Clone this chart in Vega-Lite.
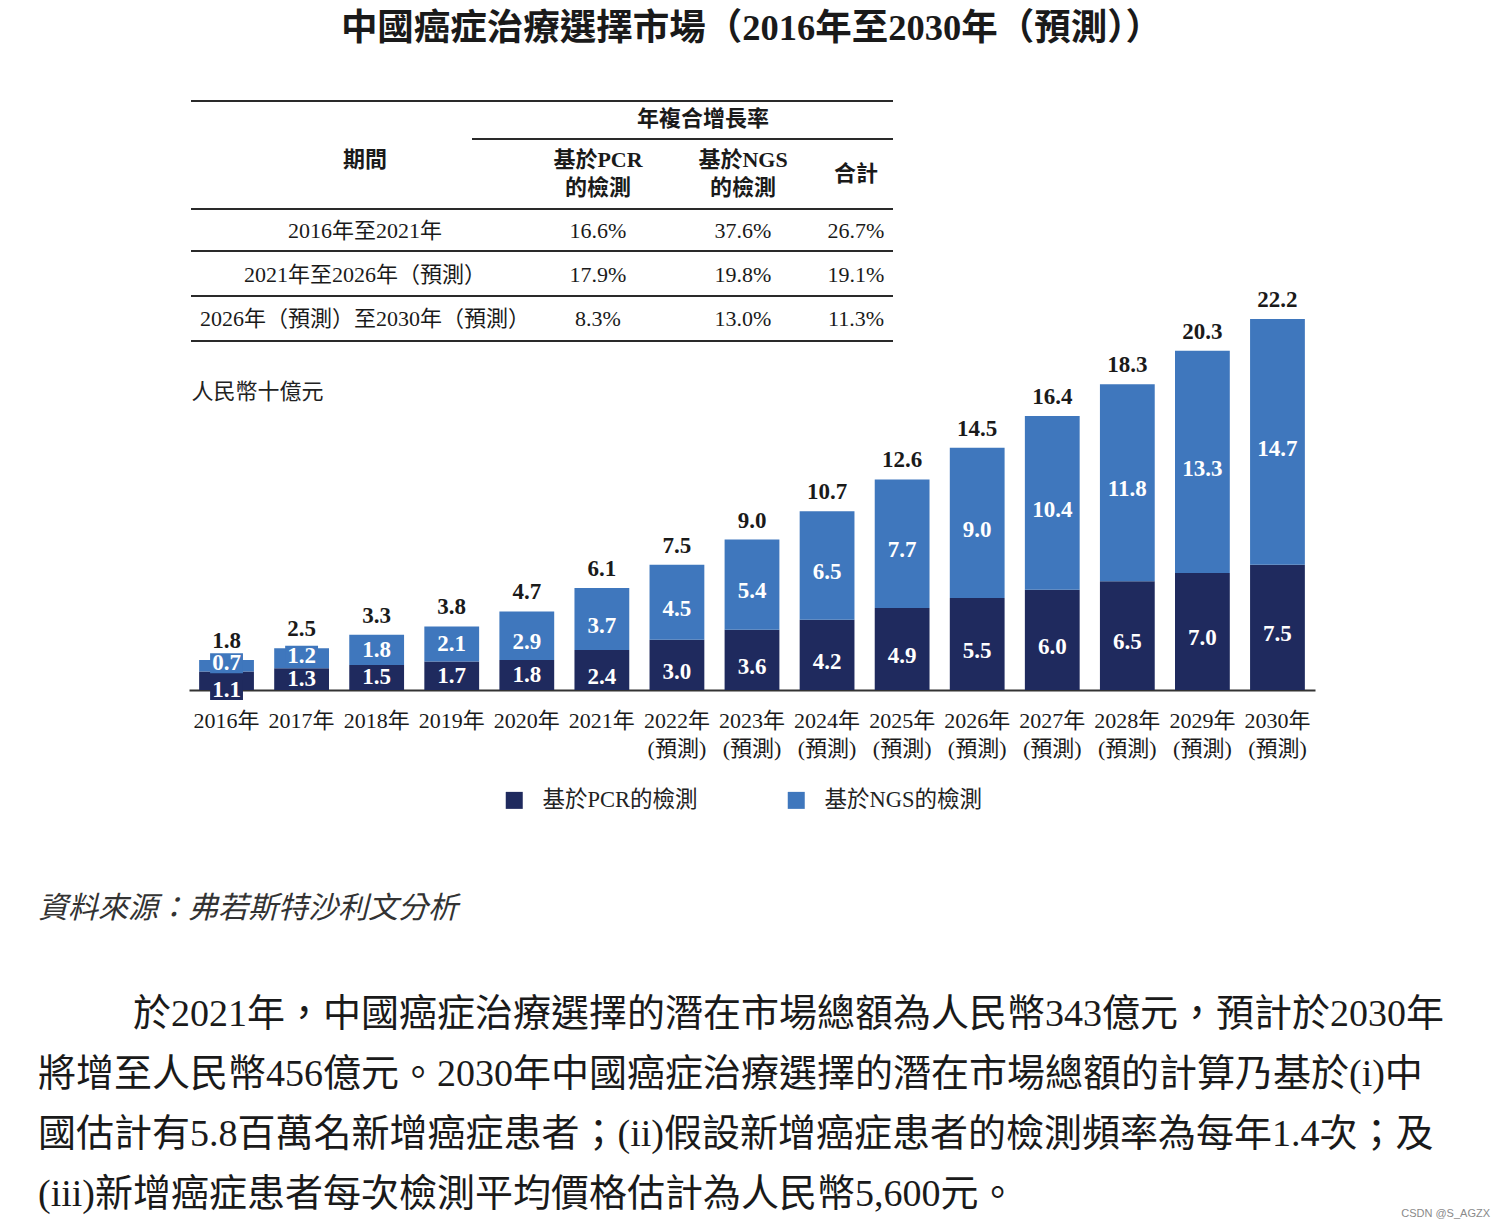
{
  "$schema": "https://vega.github.io/schema/vega-lite/v6.json",
  "width": 1505,
  "height": 1174,
  "autosize": {"type": "none"},
  "padding": {"top": 55, "left": 0, "right": 0, "bottom": 0},
  "background": "#ffffff",
  "title": {
    "text": "中國癌症治療選擇市場（2016年至2030年（預測））",
    "anchor": "middle",
    "frame": "group",
    "font": "Liberation Serif, Noto Sans CJK TC",
    "fontSize": 36.5,
    "fontWeight": "bold",
    "color": "#1a1a1a",
    "offset": 8,
    "dx": -1
  },
  "config": {"view": {"stroke": null}},
  "resolve": {"scale": {"x": "independent", "y": "independent"}},
  "layer": [
    {
      "data": {
        "values": [
          {"year": "2016", "type": "基於PCR的檢測", "value": 1.1},
          {"year": "2016", "type": "基於NGS的檢測", "value": 0.7},
          {"year": "2017", "type": "基於PCR的檢測", "value": 1.3},
          {"year": "2017", "type": "基於NGS的檢測", "value": 1.2},
          {"year": "2018", "type": "基於PCR的檢測", "value": 1.5},
          {"year": "2018", "type": "基於NGS的檢測", "value": 1.8},
          {"year": "2019", "type": "基於PCR的檢測", "value": 1.7},
          {"year": "2019", "type": "基於NGS的檢測", "value": 2.1},
          {"year": "2020", "type": "基於PCR的檢測", "value": 1.8},
          {"year": "2020", "type": "基於NGS的檢測", "value": 2.9},
          {"year": "2021", "type": "基於PCR的檢測", "value": 2.4},
          {"year": "2021", "type": "基於NGS的檢測", "value": 3.7},
          {"year": "2022", "type": "基於PCR的檢測", "value": 3.0},
          {"year": "2022", "type": "基於NGS的檢測", "value": 4.5},
          {"year": "2023", "type": "基於PCR的檢測", "value": 3.6},
          {"year": "2023", "type": "基於NGS的檢測", "value": 5.4},
          {"year": "2024", "type": "基於PCR的檢測", "value": 4.2},
          {"year": "2024", "type": "基於NGS的檢測", "value": 6.5},
          {"year": "2025", "type": "基於PCR的檢測", "value": 4.9},
          {"year": "2025", "type": "基於NGS的檢測", "value": 7.7},
          {"year": "2026", "type": "基於PCR的檢測", "value": 5.5},
          {"year": "2026", "type": "基於NGS的檢測", "value": 9.0},
          {"year": "2027", "type": "基於PCR的檢測", "value": 6.0},
          {"year": "2027", "type": "基於NGS的檢測", "value": 10.4},
          {"year": "2028", "type": "基於PCR的檢測", "value": 6.5},
          {"year": "2028", "type": "基於NGS的檢測", "value": 11.8},
          {"year": "2029", "type": "基於PCR的檢測", "value": 7.0},
          {"year": "2029", "type": "基於NGS的檢測", "value": 13.3},
          {"year": "2030", "type": "基於PCR的檢測", "value": 7.5},
          {"year": "2030", "type": "基於NGS的檢測", "value": 14.7}
        ]
      },
      "layer": [
        {
          "mark": {"type": "bar"},
          "encoding": {
            "x": {
              "field": "year", "type": "nominal", "sort": null,
              "scale": {"range": [189, 1315], "paddingInner": 0.27, "paddingOuter": 0.135},
              "axis": {
                "orient": "bottom", "offset": -539, "title": null,
                "domainColor": "#333333", "domainWidth": 2, "ticks": false, "grid": false,
                "labelFont": "Liberation Serif, Noto Sans CJK TC", "labelFontSize": 22,
                "labelColor": "#1a1a1a", "labelPadding": 20, "labelAngle": 0,
                "labelLineHeight": 28, "labelOverlap": false, "labelBound": false,
                "labelExpr": "toNumber(datum.value) >= 2022 ? [datum.value + '年', '(預測)'] : datum.value + '年'"
              }
            },
            "y": {
              "field": "value", "type": "quantitative", "stack": "zero",
              "scale": {"domain": [0, 22.2], "range": [635, 264], "nice": false},
              "axis": {
                "orient": "left", "domain": false, "ticks": false, "labels": false, "grid": false,
                "title": "人民幣十億元", "titleAngle": 0, "titleAlign": "left", "titleBaseline": "middle",
                "titleX": 191, "titleY": 336, "titleFont": "Noto Sans CJK TC", "titleFontSize": 22,
                "titleFontWeight": "normal", "titleColor": "#222222"
              }
            },
            "color": {
              "field": "type", "type": "nominal",
              "scale": {"domain": ["基於PCR的檢測", "基於NGS的檢測"], "range": ["#1f2a5e", "#3f77bd"]},
              "legend": {
                "orient": "none", "legendX": 503, "legendY": 734, "direction": "horizontal",
                "title": null, "symbolType": "square", "symbolSize": 289, "symbolStrokeWidth": 0,
                "symbolOpacity": 1, "labelFont": "Liberation Serif, Noto Sans CJK TC",
                "labelFontSize": 22.5, "labelColor": "#222222", "labelOffset": 17,
                "columnPadding": 87, "labelLimit": 300, "padding": 0
              }
            },
            "order": {"field": "type", "type": "nominal", "sort": "descending"}
          }
        },
        {
          "transform": [
            {"stack": "value", "groupby": ["year"], "sort": [{"field": "type", "order": "descending"}], "as": ["v0", "v1"]},
            {"calculate": "(datum.v0 + datum.v1) / 2", "as": "mid"},
            {"filter": "datum.v1 - datum.v0 < 1.25"},
            {"calculate": "datum.v0 == 0 ? 0 : datum.mid + 0.15", "as": "lab"},
            {"calculate": "datum.lab - 0.6", "as": "blo"},
            {"calculate": "datum.lab + 0.6", "as": "bhi"}
          ],
          "mark": {"type": "bar", "width": {"band": 0.6}},
          "encoding": {
            "x": {"field": "year", "type": "nominal", "sort": null},
            "y": {"field": "blo", "type": "quantitative"},
            "y2": {"field": "bhi"},
            "color": {"field": "type", "type": "nominal"}
          }
        },
        {
          "transform": [
            {"stack": "value", "groupby": ["year"], "sort": [{"field": "type", "order": "descending"}], "as": ["v0", "v1"]},
            {"calculate": "(datum.v0 + datum.v1) / 2", "as": "mid"},
            {"calculate": "datum.v1 - datum.v0 < 1.25 ? (datum.v0 == 0 ? 0 : datum.mid + 0.15) : (datum.v1 - datum.v0 >= 2.3 ? datum.mid - 0.4 : datum.mid)", "as": "lab"}
          ],
          "mark": {"type": "text", "color": "#ffffff", "font": "Liberation Serif", "fontSize": 23, "fontWeight": "bold", "baseline": "middle"},
          "encoding": {
            "x": {"field": "year", "type": "nominal", "sort": null},
            "y": {"field": "lab", "type": "quantitative"},
            "text": {"field": "value", "type": "quantitative", "format": ".1f"}
          }
        },
        {
          "transform": [
            {"aggregate": [{"op": "sum", "field": "value", "as": "total"}], "groupby": ["year"]}
          ],
          "mark": {"type": "text", "color": "#1a1a1a", "font": "Liberation Serif", "fontSize": 23, "fontWeight": "bold", "baseline": "alphabetic", "dy": -12},
          "encoding": {
            "x": {"field": "year", "type": "nominal", "sort": null},
            "y": {"field": "total", "type": "quantitative"},
            "text": {"field": "total", "type": "quantitative", "format": ".1f"}
          }
        }
      ]
    },
    {
      "layer": [
        {
          "data": {
            "values": [
              {"above": "h1", "span": "all"},
              {"above": "h2", "span": "cagr"},
              {"above": "r1", "span": "all"},
              {"above": "r2", "span": "all"},
              {"above": "r3", "span": "all"},
              {"above": "end", "span": "all"}
            ]
          },
          "transform": [
            {"calculate": "(datum.above === 'h1' ? 0 : datum.above === 'h2' ? 1 : datum.above === 'r1' ? 2 : datum.above === 'r2' ? 3 : datum.above === 'r3' ? 4 : 5) - 0.5", "as": "yi"},
            {"calculate": "datum.span === 'all' ? -0.5 : 0.5", "as": "xs"},
            {"calculate": "3.5", "as": "xe"}
          ],
          "mark": {"type": "rule", "color": "#2a2a2a", "strokeWidth": 2},
          "encoding": {
            "x": {"field": "xs", "type": "quantitative", "axis": null,
                  "scale": {"domain": [-0.5, 0, 0.5, 1, 1.5, 2, 3, 3.5], "range": [191, 365, 472, 598, 703, 743, 856, 893], "nice": false, "zero": false}},
            "x2": {"field": "xe"},
            "y": {"field": "yi", "type": "quantitative", "axis": null,
                  "scale": {"domain": [-0.5, 0, 0.5, 1, 1.5, 2, 2.5, 3, 3.5, 4, 4.5], "range": [46, 64, 84, 119, 154, 176, 196, 220, 241, 264, 286], "nice": false, "zero": false}}
          }
        },
        {
          "data": {
            "values": [
              {"row": "h1", "col": "group", "text": "年複合增長率", "kind": "head1"},
              {"row": "h2", "col": "period", "text": "期間", "kind": "head2"},
              {"row": "h2", "col": "pcr", "text": "基於PCR\n的檢測", "kind": "head2"},
              {"row": "h2", "col": "ngs", "text": "基於NGS\n的檢測", "kind": "head2"},
              {"row": "h2", "col": "total", "text": "合計", "kind": "head1"},
              {"row": "r1", "col": "period", "text": "2016年至2021年", "kind": "body"},
              {"row": "r1", "col": "pcr", "text": "16.6%", "kind": "body"},
              {"row": "r1", "col": "ngs", "text": "37.6%", "kind": "body"},
              {"row": "r1", "col": "total", "text": "26.7%", "kind": "body"},
              {"row": "r2", "col": "period", "text": "2021年至2026年（預測）", "kind": "body"},
              {"row": "r2", "col": "pcr", "text": "17.9%", "kind": "body"},
              {"row": "r2", "col": "ngs", "text": "19.8%", "kind": "body"},
              {"row": "r2", "col": "total", "text": "19.1%", "kind": "body"},
              {"row": "r3", "col": "period", "text": "2026年（預測）至2030年（預測）", "kind": "body"},
              {"row": "r3", "col": "pcr", "text": "8.3%", "kind": "body"},
              {"row": "r3", "col": "ngs", "text": "13.0%", "kind": "body"},
              {"row": "r3", "col": "total", "text": "11.3%", "kind": "body"}
            ]
          },
          "transform": [
            {"calculate": "datum.col === 'period' ? 0 : datum.col === 'pcr' ? 1 : datum.col === 'group' ? 1.5 : datum.col === 'ngs' ? 2 : 3", "as": "ci"},
            {"calculate": "datum.row === 'h1' ? 0 : datum.row === 'h2' ? 1 : datum.row === 'r1' ? 2 : datum.row === 'r2' ? 3 : 4", "as": "ri"}
          ],
          "layer": [
            {
              "transform": [{"filter": "datum.kind === 'head1'"}],
              "mark": {"type": "text", "font": "Liberation Serif, Noto Sans CJK TC", "fontSize": 22, "fontWeight": "bold", "color": "#1a1a1a", "baseline": "middle"},
              "encoding": {
                "x": {"field": "ci", "type": "quantitative", "axis": null},
                "y": {"field": "ri", "type": "quantitative", "axis": null},
                "text": {"field": "text"}
              }
            },
            {
              "transform": [{"filter": "datum.kind === 'head2'"}],
              "mark": {"type": "text", "font": "Liberation Serif, Noto Sans CJK TC", "fontSize": 22, "fontWeight": "bold", "lineBreak": "\n", "lineHeight": 28, "color": "#1a1a1a", "baseline": "middle", "dy": -14},
              "encoding": {
                "x": {"field": "ci", "type": "quantitative", "axis": null},
                "y": {"field": "ri", "type": "quantitative", "axis": null},
                "text": {"field": "text"}
              }
            },
            {
              "transform": [{"filter": "datum.kind === 'body'"}],
              "mark": {"type": "text", "font": "Liberation Serif, Noto Sans CJK TC", "fontSize": 22, "color": "#1a1a1a", "baseline": "middle"},
              "encoding": {
                "x": {"field": "ci", "type": "quantitative", "axis": null},
                "y": {"field": "ri", "type": "quantitative", "axis": null},
                "text": {"field": "text"}
              }
            }
          ]
        }
      ]
    },
    {
      "data": {
        "values": [
          {"id": "src", "kind": "source", "indent": "none", "text": "資料來源：弗若斯特沙利文分析"},
          {"id": "p1", "kind": "para", "indent": "first", "text": "於2021年，中國癌症治療選擇的潛在市場總額為人民幣343億元，預計於2030年"},
          {"id": "p2", "kind": "para", "indent": "none", "text": "將增至人民幣456億元。2030年中國癌症治療選擇的潛在市場總額的計算乃基於(i)中"},
          {"id": "p3", "kind": "para", "indent": "none", "text": "國估計有5.8百萬名新增癌症患者；(ii)假設新增癌症患者的檢測頻率為每年1.4次；及"},
          {"id": "p4", "kind": "para", "indent": "none", "text": "(iii)新增癌症患者每次檢測平均價格估計為人民幣5,600元。"},
          {"id": "wm", "kind": "wm", "indent": "right", "text": "CSDN @S_AGZX"}
        ]
      },
      "transform": [
        {"calculate": "datum.indent === 'first' ? 1 : datum.indent === 'right' ? 2 : 0", "as": "xi"},
        {"calculate": "datum.id === 'src' ? 0 : datum.id === 'p1' ? 1 : datum.id === 'p2' ? 2 : datum.id === 'p3' ? 3 : datum.id === 'p4' ? 4 : 5", "as": "yi"}
      ],
      "layer": [
        {
          "transform": [{"filter": "datum.kind === 'source'"}],
          "mark": {"type": "text", "align": "left", "baseline": "middle", "font": "Noto Sans CJK TC", "fontSize": 30, "fontStyle": "italic", "color": "#333333"},
          "encoding": {
            "x": {"field": "xi", "type": "quantitative", "axis": null,
                  "scale": {"domain": [0, 1, 2], "range": [38, 133, 1490], "nice": false, "zero": false}},
            "y": {"field": "yi", "type": "quantitative", "axis": null,
                  "scale": {"domain": [0, 1, 2, 3, 4, 5], "range": [854, 960, 1020, 1080, 1140, 1159], "nice": false, "zero": false}},
            "text": {"field": "text"}
          }
        },
        {
          "transform": [{"filter": "datum.kind === 'para'"}],
          "mark": {"type": "text", "align": "left", "baseline": "middle", "font": "Liberation Serif, Noto Sans CJK TC", "fontSize": 38, "color": "#1a1a1a"},
          "encoding": {
            "x": {"field": "xi", "type": "quantitative", "axis": null},
            "y": {"field": "yi", "type": "quantitative", "axis": null},
            "text": {"field": "text"}
          }
        },
        {
          "transform": [{"filter": "datum.kind === 'wm'"}],
          "mark": {"type": "text", "align": "right", "baseline": "middle", "font": "Liberation Sans", "fontSize": 11, "color": "#8a8a8a"},
          "encoding": {
            "x": {"field": "xi", "type": "quantitative", "axis": null},
            "y": {"field": "yi", "type": "quantitative", "axis": null},
            "text": {"field": "text"}
          }
        }
      ]
    }
  ]
}
